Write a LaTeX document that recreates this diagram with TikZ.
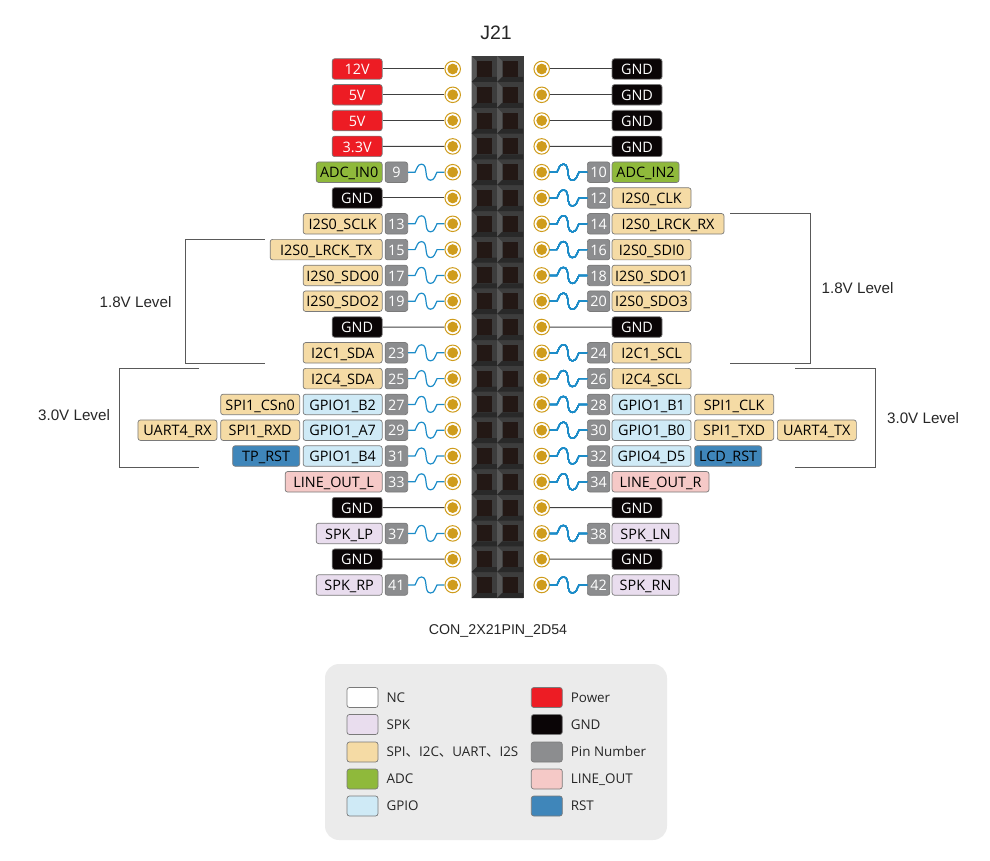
\documentclass[tikz,border=0pt]{standalone}
\usepackage{fontspec}
\setmainfont{Open Sans}
\newfontfamily\capfont{Liberation Sans}
\newfontfamily\cjk{Noto Sans CJK SC}
\usetikzlibrary{positioning}
\definecolor{pwrred}{HTML}{ED1C24}
\definecolor{gndblack}{HTML}{0A0506}
\definecolor{busamber}{HTML}{F5DBA5}
\definecolor{adcgreen}{HTML}{8FB93B}
\definecolor{gpioblue}{HTML}{CFEAF6}
\definecolor{lineoutpink}{HTML}{F5C9C7}
\definecolor{rstblue}{HTML}{3F86BA}
\definecolor{numgray}{HTML}{8C8D8F}
\definecolor{spkviolet}{HTML}{E9DDEE}
\definecolor{edgegray}{HTML}{7A7A7A}
\definecolor{padgold}{HTML}{CF9C1C}
\definecolor{wireblue}{HTML}{1C8CC8}
\definecolor{legendgray}{HTML}{EBEBEB}
\definecolor{socketdark}{HTML}{231815}
\tikzset{
  tag/.style={rectangle, rounded corners=2.5, draw=edgegray, line width=0.7, inner sep=0,
    minimum height=20.5, text height=14, text depth=2.6, font=\fontsize{14.4}{16}\selectfont},
  power/.style={tag, fill=pwrred, text=white},
  gnd/.style={tag, fill=gndblack, text=white, minimum width=50},
  bus/.style={tag, fill=busamber},
  adc/.style={tag, fill=adcgreen},
  gpio/.style={tag, fill=gpioblue, minimum width=79},
  lineout/.style={tag, fill=lineoutpink},
  rst/.style={tag, fill=rstblue},
  spk/.style={tag, fill=spkviolet, minimum width=66},
  num/.style={tag, fill=numgray, text=white, minimum width=22.5},
  pad/.style={circle, draw=padgold, fill=white, line width=1, minimum size=15.5, inner sep=0},
  wire/.style={line width=1, black!75},
  wave/.style={line width=1.2, wireblue},
  level/.style={line width=1, black!65},
  caption/.style={font=\capfont\fontsize{15.2}{17}\selectfont, text=black!85},
  swatch/.style={rectangle, rounded corners=2.5, draw=edgegray, line width=0.7, minimum width=31, minimum height=20, inner sep=0},
  legendtext/.style={font=\fontsize{13.4}{15}\selectfont, text=black!85, inner sep=0, text height=12.2, text depth=2.6}
}
\newcommand{\pinwave}[2]{\draw[wave] (#1) -- ++(7,0) to[out=60,in=180] ++(6.5,-8) to[out=0,in=180] ++(9,16) to[out=0,in=-120] ++(6.5,-8) -- (#2);}
\begin{document}
\begin{tikzpicture}[x=1pt, y=-1pt]
\useasboundingbox (0,0) rectangle (990,861);
% header housing
\fill[black!76] (471.5,56) rectangle (523.5,598);
\foreach \i in {1,...,21}{
  \pgfmathsetmacro{\y}{69+25.8*(\i-1)}
  \foreach \c in {471.5,497}{
    \fill[black!66] (\c,\y-13) -- (\c+5,\y-8) -- (\c+5,\y+8) -- (\c,\y+13) -- cycle;
    \fill[black!84] (\c,\y+13) -- (\c+5,\y+8) -- (\c+26,\y+8) -- (\c+26,\y+13) -- cycle;
  }
  \fill[socketdark] (476.7,\y-8) rectangle (492,\y+8);
  \fill[socketdark] (502.7,\y-8) rectangle (518,\y+8);
}
% pads
\foreach \i [evaluate=\i as \l using int(2*\i-1), evaluate=\i as \r using int(2*\i)] in {1,...,21}{
  \pgfmathsetmacro{\y}{69+25.8*(\i-1)}
  \node[pad] (p\l) at (452.7,\y) {};
  \node[pad] (p\r) at (541.7,\y) {};
  \fill[padgold] (p\l) circle (5.4pt);
  \fill[padgold] (p\r) circle (5.4pt);
}
% left labels
\node[power, anchor=east, minimum width=50] (v1) at (382.5,69) {12V};
\node[power, anchor=east, minimum width=50] (v3) at (382.5,94.8) {5V};
\node[power, anchor=east, minimum width=50] (v5) at (382.5,120.6) {5V};
\node[power, anchor=east, minimum width=50] (v7) at (382.5,146.4) {3.3V};
\node[num, anchor=east] (n9) at (408,172.2) {9};
\node[adc, anchor=east, minimum width=66] (s9) at (382.5,172.2) {ADC\_IN0};
\node[gnd, anchor=east] (g11) at (382.5,198) {GND};
\node[num, anchor=east] (n13) at (408,223.8) {13};
\node[bus, anchor=east, minimum width=79] (s13) at (382.5,223.8) {I2S0\_SCLK};
\node[num, anchor=east] (n15) at (408,249.6) {15};
\node[bus, anchor=east, minimum width=112] (s15) at (382.5,249.6) {I2S0\_LRCK\_TX};
\node[num, anchor=east] (n17) at (408,275.4) {17};
\node[bus, anchor=east, minimum width=79] (s17) at (382.5,275.4) {I2S0\_SDO0};
\node[num, anchor=east] (n19) at (408,301.2) {19};
\node[bus, anchor=east, minimum width=79] (s19) at (382.5,301.2) {I2S0\_SDO2};
\node[gnd, anchor=east] (g21) at (382.5,327) {GND};
\node[num, anchor=east] (n23) at (408,352.8) {23};
\node[bus, anchor=east, minimum width=79] (s23) at (382.5,352.8) {I2C1\_SDA};
\node[num, anchor=east] (n25) at (408,378.6) {25};
\node[bus, anchor=east, minimum width=79] (s25) at (382.5,378.6) {I2C4\_SDA};
\node[num, anchor=east] (n27) at (408,404.4) {27};
\node[gpio, anchor=east] (s27) at (382.5,404.4) {GPIO1\_B2};
\node[bus, anchor=east, minimum width=79] (t27) at (300,404.4) {SPI1\_CSn0};
\node[num, anchor=east] (n29) at (408,430.2) {29};
\node[gpio, anchor=east] (s29) at (382.5,430.2) {GPIO1\_A7};
\node[bus, anchor=east, minimum width=79] (t29) at (300,430.2) {SPI1\_RXD};
\node[bus, anchor=east, minimum width=79] (u29) at (217.3,430.2) {UART4\_RX};
\node[num, anchor=east] (n31) at (408,456) {31};
\node[gpio, anchor=east] (s31) at (382.5,456) {GPIO1\_B4};
\node[rst, anchor=east, minimum width=67] (t31) at (300,456) {TP\_RST};
\node[num, anchor=east] (n33) at (408,481.8) {33};
\node[lineout, anchor=east, minimum width=97] (s33) at (382.5,481.8) {LINE\_OUT\_L};
\node[gnd, anchor=east] (g35) at (382.5,507.6) {GND};
\node[num, anchor=east] (n37) at (408,533.4) {37};
\node[spk, anchor=east] (s37) at (382.5,533.4) {SPK\_LP};
\node[gnd, anchor=east] (g39) at (382.5,559.2) {GND};
\node[num, anchor=east] (n41) at (408,585) {41};
\node[spk, anchor=east] (s41) at (382.5,585) {SPK\_RP};
% right labels
\node[gnd, anchor=west] (g2) at (611.7,69) {GND};
\node[gnd, anchor=west] (g4) at (611.7,94.8) {GND};
\node[gnd, anchor=west] (g6) at (611.7,120.6) {GND};
\node[gnd, anchor=west] (g8) at (611.7,146.4) {GND};
\node[num, anchor=west] (n10) at (587,172.2) {10};
\node[adc, anchor=west, minimum width=67] (s10) at (611.7,172.2) {ADC\_IN2};
\node[num, anchor=west] (n12) at (587,198) {12};
\node[bus, anchor=west, minimum width=79] (s12) at (611.7,198) {I2S0\_CLK};
\node[num, anchor=west] (n14) at (587,223.8) {14};
\node[bus, anchor=west, minimum width=112] (s14) at (611.7,223.8) {I2S0\_LRCK\_RX};
\node[num, anchor=west] (n16) at (587,249.6) {16};
\node[bus, anchor=west, minimum width=79] (s16) at (611.7,249.6) {I2S0\_SDI0};
\node[num, anchor=west] (n18) at (587,275.4) {18};
\node[bus, anchor=west, minimum width=79] (s18) at (611.7,275.4) {I2S0\_SDO1};
\node[num, anchor=west] (n20) at (587,301.2) {20};
\node[bus, anchor=west, minimum width=79] (s20) at (611.7,301.2) {I2S0\_SDO3};
\node[gnd, anchor=west] (g22) at (611.7,327) {GND};
\node[num, anchor=west] (n24) at (587,352.8) {24};
\node[bus, anchor=west, minimum width=79] (s24) at (611.7,352.8) {I2C1\_SCL};
\node[num, anchor=west] (n26) at (587,378.6) {26};
\node[bus, anchor=west, minimum width=79] (s26) at (611.7,378.6) {I2C4\_SCL};
\node[num, anchor=west] (n28) at (587,404.4) {28};
\node[gpio, anchor=west] (s28) at (611.7,404.4) {GPIO1\_B1};
\node[bus, anchor=west, minimum width=79] (t28) at (694.3,404.4) {SPI1\_CLK};
\node[num, anchor=west] (n30) at (587,430.2) {30};
\node[gpio, anchor=west] (s30) at (611.7,430.2) {GPIO1\_B0};
\node[bus, anchor=west, minimum width=79] (t30) at (694.3,430.2) {SPI1\_TXD};
\node[bus, anchor=west, minimum width=79] (u30) at (777,430.2) {UART4\_TX};
\node[num, anchor=west] (n32) at (587,456) {32};
\node[gpio, anchor=west] (s32) at (611.7,456) {GPIO4\_D5};
\node[rst, anchor=west, minimum width=67] (t32) at (694.3,456) {LCD\_RST};
\node[num, anchor=west] (n34) at (587,481.8) {34};
\node[lineout, anchor=west, minimum width=97] (s34) at (611.7,481.8) {LINE\_OUT\_R};
\node[gnd, anchor=west] (g36) at (611.7,507.6) {GND};
\node[num, anchor=west] (n38) at (587,533.4) {38};
\node[spk, anchor=west, minimum width=67] (s38) at (611.7,533.4) {SPK\_LN};
\node[gnd, anchor=west] (g40) at (611.7,559.2) {GND};
\node[num, anchor=west] (n42) at (587,585) {42};
\node[spk, anchor=west, minimum width=67] (s42) at (611.7,585) {SPK\_RN};
% connectors
\foreach \a/\b in {v1/p1,v3/p3,v5/p5,v7/p7,g11/p11,g21/p21,g35/p35,g39/p39}
  \draw[wire] (\a.east) -- (\b.west);
\foreach \a/\b in {p2/g2,p4/g4,p6/g6,p8/g8,p22/g22,p36/g36,p40/g40}
  \draw[wire] (\a.east) -- (\b.west);
\foreach \a/\b in {n9/p9,n13/p13,n15/p15,n17/p17,n19/p19,n23/p23,n25/p25,n27/p27,n29/p29,n31/p31,n33/p33,n37/p37,n41/p41}
  \pinwave{\a.east}{\b.west}
\foreach \a/\b in {p10/n10,p12/n12,p14/n14,p16/n16,p18/n18,p20/n20,p24/n24,p26/n26,p28/n28,p30/n30,p32/n32,p34/n34,p38/n38,p42/n42}
  \pinwave{\a.east}{\b.west}
% voltage brackets
\coordinate (la) at (264.7,239);
\coordinate (lb) at (264.7,363.3);
\coordinate (lc) at (199,368);
\coordinate (ld) at (199,467);
\coordinate (ra) at (730,213.3);
\coordinate (rb) at (730,363.3);
\coordinate (rc) at (795,368);
\coordinate (rd) at (795,467);
\draw[level] (la) -- (185,239) -- (185,363.3) -- (lb);
\draw[level] (lc) -- (119.5,368) -- (119.5,467) -- (ld);
\draw[level] (ra) -- (810,213.3) -- (810,363.3) -- (rb);
\draw[level] (rc) -- (875,368) -- (875,467) -- (rd);
\node[caption] (t18l) at (135.5,302) {1.8V Level};
\node[caption] (t30l) at (74,415) {3.0V Level};
\node[caption] (t18r) at (857.5,288) {1.8V Level};
\node[caption] (t30r) at (923,418) {3.0V Level};
\node[caption, font=\capfont\fontsize{19.5}{22}\selectfont] (title) at (496,33) {J21};
\node[caption, font=\capfont\fontsize{14.2}{17}\selectfont] (part) at (498,631) {CON\_2X21PIN\_2D54};
% legend
\fill[legendgray, rounded corners=14] (325,664) rectangle (667,840);
\node[swatch, fill=white] (k1) at (362.5,697.5) {};
\node[swatch, fill=spkviolet] (k2) at (362.5,724.5) {};
\node[swatch, fill=busamber] (k3) at (362.5,752) {};
\node[swatch, fill=adcgreen] (k4) at (362.5,779) {};
\node[swatch, fill=gpioblue] (k5) at (362.5,806) {};
\node[swatch, fill=pwrred] (k6) at (546.8,697.5) {};
\node[swatch, fill=gndblack] (k7) at (546.8,724.5) {};
\node[swatch, fill=numgray] (k8) at (546.8,752) {};
\node[swatch, fill=lineoutpink] (k9) at (546.8,779) {};
\node[swatch, fill=rstblue] (k10) at (546.8,806) {};
\node[legendtext, right=8pt of k1] (e1) {NC};
\node[legendtext, right=8pt of k2] (e2) {SPK};
\node[legendtext, right=8pt of k3] (e3) {SPI{\cjk 、}I2C{\cjk 、}UART{\cjk 、}I2S};
\node[legendtext, right=8pt of k4] (e4) {ADC};
\node[legendtext, right=8pt of k5] (e5) {GPIO};
\node[legendtext, right=8pt of k6] (e6) {Power};
\node[legendtext, right=8pt of k7] (e7) {GND};
\node[legendtext, right=8pt of k8] (e8) {Pin Number};
\node[legendtext, right=8pt of k9] (e9) {LINE\_OUT};
\node[legendtext, right=8pt of k10] (e10) {RST};
\end{tikzpicture}
\end{document}
